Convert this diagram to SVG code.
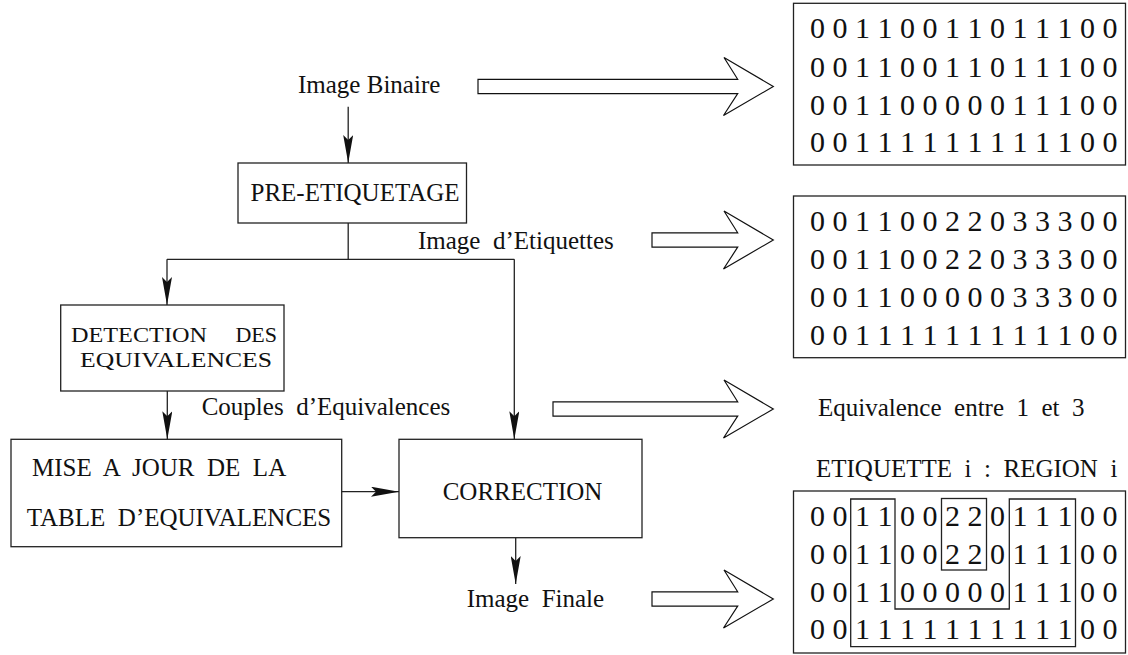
<svg xmlns="http://www.w3.org/2000/svg" width="1128" height="655" viewBox="0 0 1128 655">
<style>
text{font-family:"Liberation Serif","Times New Roman",serif;fill:#111;white-space:pre}
.lbl{font-size:25px}
.two{font-size:22px}
.mat{font-size:30px}
.box{fill:none;stroke:#222;stroke-width:1.3}
.con{fill:none;stroke:#222;stroke-width:1.3}
.big{fill:#fff;stroke:#111;stroke-width:1.2;stroke-linejoin:miter}
</style>
<defs>
<marker id="ah" markerUnits="userSpaceOnUse" markerWidth="28" markerHeight="10" viewBox="0 0 28 10" refX="28" refY="5" orient="auto">
<path d="M0,0 L28,5 L0,10 L5,5 z" fill="#111"/>
</marker>
</defs>
<rect width="1128" height="655" fill="#fff"/>

<g id="label-binaire"><text class="lbl" x="298" y="93">Image Binaire</text></g>
<g id="pre-etiquetage"><rect class="box" x="238" y="163" width="228.5" height="60"/><text class="lbl" x="250.5" y="201">PRE-ETIQUETAGE</text></g>
<g id="label-etiquettes"><text class="lbl" x="418" y="248.5" xml:space="preserve">Image  d’Etiquettes</text></g>
<g id="detection"><rect class="box" x="60.7" y="305" width="223.3" height="86"/>
<text class="two" x="71" y="342" textLength="136" lengthAdjust="spacingAndGlyphs">DETECTION</text>
<text class="two" x="277" y="342" text-anchor="end">DES</text>
<text class="two" x="80" y="367" textLength="192" lengthAdjust="spacingAndGlyphs">EQUIVALENCES</text></g>
<g id="label-couples"><text class="lbl" x="201.7" y="414.5" xml:space="preserve">Couples  d’Equivalences</text></g>
<g id="mise-a-jour"><rect class="box" x="11" y="439.3" width="330.7" height="107.4"/>
<text class="lbl" x="32" y="476" xml:space="preserve">MISE  A  JOUR  DE  LA</text>
<text class="lbl" x="26.8" y="526" xml:space="preserve">TABLE  D’EQUIVALENCES</text></g>
<g id="correction"><rect class="box" x="399" y="439.3" width="243" height="98.4"/><text class="lbl" x="442.7" y="499.5">CORRECTION</text></g>
<g id="label-finale"><text class="lbl" x="466.7" y="606.7" xml:space="preserve">Image  Finale</text></g>

<g id="connectors">
<line class="con" x1="348.2" y1="106.7" x2="348.2" y2="163" marker-end="url(#ah)"/>
<polyline class="con" points="348.2,223 348.2,259.3"/>
<polyline class="con" points="167,259.3 514.3,259.3"/>
<line class="con" x1="167" y1="259.3" x2="167" y2="305" marker-end="url(#ah)"/>
<line class="con" x1="514.3" y1="259.3" x2="514.3" y2="439.3" marker-end="url(#ah)"/>
<line class="con" x1="167.3" y1="391" x2="167.3" y2="439.3" marker-end="url(#ah)"/>
<line class="con" x1="341.7" y1="491.7" x2="399" y2="491.7" marker-end="url(#ah)"/>
<line class="con" x1="515.7" y1="537.7" x2="515.7" y2="584" marker-end="url(#ah)"/>
</g>

<g id="big-arrows">
<polygon class="big" points="478,79.3 737.7,79.3 724,57.5 773.3,86.5 723.5,115.5 737.7,93.7 478,93.7"/>
<polygon class="big" points="652,232.8 737.7,232.8 724,211 773.3,240 723.5,269 737.7,247.2 652,247.2"/>
<polygon class="big" points="553,401.8 737.7,401.8 724,380 773.3,409 723.5,438 737.7,416.2 553,416.2"/>
<polygon class="big" points="652,591.8 737.7,591.8 724,570 773.3,599 723.5,628 737.7,606.2 652,606.2"/>
</g>

<g id="matrix-binaire">
<rect class="box" x="793.5" y="3.3" width="332" height="161.7"/>
<text class="mat" x="810" y="38.3">0 0 1 1 0 0 1 1 0 1 1 1 0 0</text>
<text class="mat" x="810" y="76.5">0 0 1 1 0 0 1 1 0 1 1 1 0 0</text>
<text class="mat" x="810" y="114.5">0 0 1 1 0 0 0 0 0 1 1 1 0 0</text>
<text class="mat" x="810" y="152">0 0 1 1 1 1 1 1 1 1 1 1 0 0</text>
</g>

<g id="matrix-etiquettes">
<rect class="box" x="793.5" y="196" width="332" height="161.7"/>
<text class="mat" x="810" y="231">0 0 1 1 0 0 2 2 0 3 3 3 0 0</text>
<text class="mat" x="810" y="269.2">0 0 1 1 0 0 2 2 0 3 3 3 0 0</text>
<text class="mat" x="810" y="307.2">0 0 1 1 0 0 0 0 0 3 3 3 0 0</text>
<text class="mat" x="810" y="344.7">0 0 1 1 1 1 1 1 1 1 1 1 0 0</text>
</g>

<g id="label-equivalence"><text class="lbl" x="818" y="416" xml:space="preserve">Equivalence  entre  1  et  3</text></g>
<g id="label-region"><text class="lbl" x="816" y="476.7" xml:space="preserve">ETIQUETTE  i  :  REGION  i</text></g>

<g id="matrix-finale">
<rect class="box" x="793.5" y="491" width="332" height="162"/>
<text class="mat" x="810" y="525.5">0 0 1 1 0 0 2 2 0 1 1 1 0 0</text>
<text class="mat" x="810" y="563.5">0 0 1 1 0 0 2 2 0 1 1 1 0 0</text>
<text class="mat" x="810" y="601.5">0 0 1 1 0 0 0 0 0 1 1 1 0 0</text>
<text class="mat" x="810" y="639">0 0 1 1 1 1 1 1 1 1 1 1 0 0</text>
<polygon class="box" points="850.7,499 895,499 895,609 1009.3,609 1009.3,499 1075.5,499 1075.5,646.7 850.7,646.7"/>
<rect class="box" x="941.5" y="498.5" width="45" height="71.5"/>
</g>
</svg>
